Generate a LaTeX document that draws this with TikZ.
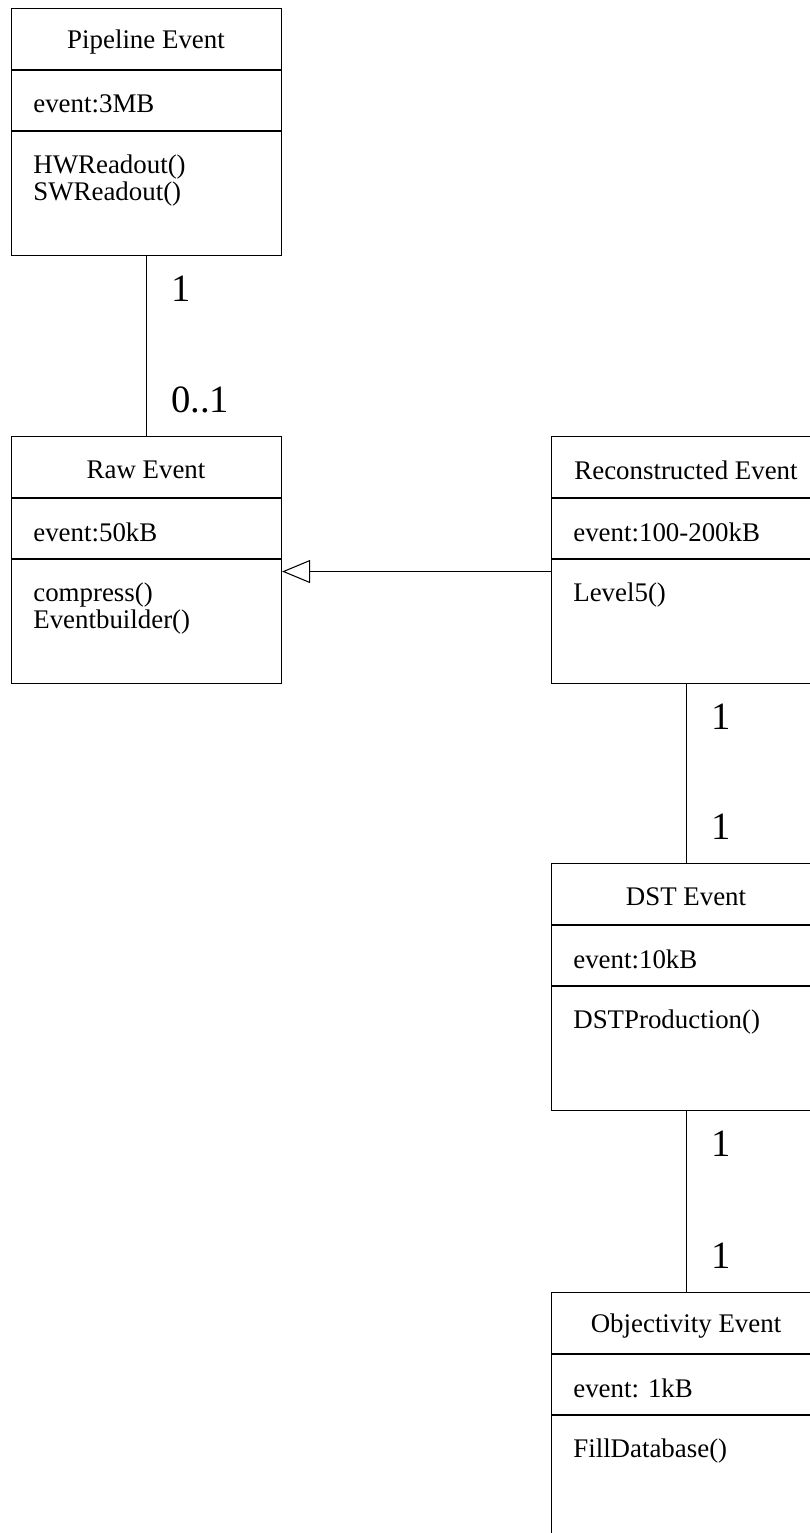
\documentclass[tikz,border=0pt]{standalone}
\usepackage{fontspec}
\setmainfont{Liberation Serif}
\usetikzlibrary{arrows.meta,positioning}

\tikzset{
  classbox/.style={draw, line width=0.6pt, minimum width=5.4cm, minimum height=4.94cm,
    inner sep=0pt, anchor=north west},
  divider/.style={line width=0.6pt},
  classname/.style={font=\fontsize{15.3}{15.3}\selectfont, inner sep=0pt},
  member/.style={font=\fontsize{15.3}{15.4}\selectfont, inner sep=0pt, anchor=west, align=left},
  mult/.style={font=\fontsize{22}{22}\selectfont, inner sep=0pt, anchor=west, xshift=0.48cm},
  assoc/.style={line width=0.6pt},
  inherit/.style={line width=0.6pt, -{Triangle[open, length=0.56cm, width=0.46cm]}}
}

\begin{document}
\begin{tikzpicture}
    \useasboundingbox (0,0) rectangle (16.2,-30.66);
    \clip (0,0) rectangle (16.2,-30.66);

    % Clase Pipeline Event
    \begin{scope}[shift={(0.22,-0.16)}]
      \node[classbox] (pipeline) at (0,0) {};
      \draw[divider] (0,-1.24) -- (5.4,-1.24);
      \draw[divider] (0,-2.46) -- (5.4,-2.46);
      \node[classname] (pipeline-name) at (2.7,-0.68) {Pipeline Event};
      \node[member] (pipeline-attr) at (0.44,-1.92) {event:3MB};
      \node[member] (pipeline-ops) at (0.44,-3.45) {HWReadout()\\SWReadout()};
    \end{scope}

    % Clase Raw Event
    \begin{scope}[shift={(0.22,-8.72)}]
      \node[classbox] (raw) at (0,0) {};
      \draw[divider] (0,-1.24) -- (5.4,-1.24);
      \draw[divider] (0,-2.46) -- (5.4,-2.46);
      \node[classname] (raw-name) at (2.7,-0.68) {Raw Event};
      \node[member] (raw-attr) at (0.44,-1.92) {event:50kB};
      \node[member] (raw-ops) at (0.44,-3.45) {compress()\\Eventbuilder()};
    \end{scope}

    % Clase Reconstructed Event
    \begin{scope}[shift={(11.02,-8.72)}]
      \node[classbox] (recon) at (0,0) {};
      \draw[divider] (0,-1.24) -- (5.4,-1.24);
      \draw[divider] (0,-2.46) -- (5.4,-2.46);
      \node[classname] (recon-name) at (2.7,-0.68) {Reconstructed Event};
      \node[member] (recon-attr) at (0.44,-1.92) {event:100-200kB};
      \node[member] (recon-ops) at (0.44,-3.18) {Level5()};
    \end{scope}

    % Clase DST Event
    \begin{scope}[shift={(11.02,-17.26)}]
      \node[classbox] (dst) at (0,0) {};
      \draw[divider] (0,-1.24) -- (5.4,-1.24);
      \draw[divider] (0,-2.46) -- (5.4,-2.46);
      \node[classname] (dst-name) at (2.7,-0.68) {DST Event};
      \node[member] (dst-attr) at (0.44,-1.92) {event:10kB};
      \node[member] (dst-ops) at (0.44,-3.18) {DSTProduction()};
    \end{scope}

    % Clase Objectivity Event
    \begin{scope}[shift={(11.02,-25.84)}]
      \node[classbox] (objy) at (0,0) {};
      \draw[divider] (0,-1.24) -- (5.4,-1.24);
      \draw[divider] (0,-2.46) -- (5.4,-2.46);
      \node[classname] (objy-name) at (2.7,-0.68) {Objectivity Event};
      \node[member] (objy-attr) at (0.44,-1.92) {event: 1kB};
      \node[member] (objy-ops) at (0.44,-3.18) {FillDatabase()};
    \end{scope}

    % Asociaciones
    \draw[assoc] (pipeline.south) -- (raw.north)
      node[mult, pos=0.18] (pipeline-mult) {1}
      node[mult, pos=0.8] (raw-mult) {0..1};
    \draw[assoc] (recon.south) -- (dst.north)
      node[mult, pos=0.18] (recon-mult) {1}
      node[mult, pos=0.8] (dst-mult) {1};
    \draw[assoc] (dst.south) -- (objy.north)
      node[mult, pos=0.18] (dst-mult2) {1}
      node[mult, pos=0.8] (objy-mult) {1};

    % Herencia
    \draw[inherit] ([yshift=-0.23cm]recon.west) -- ([yshift=-0.23cm]raw.east);
\end{tikzpicture}
\end{document}
